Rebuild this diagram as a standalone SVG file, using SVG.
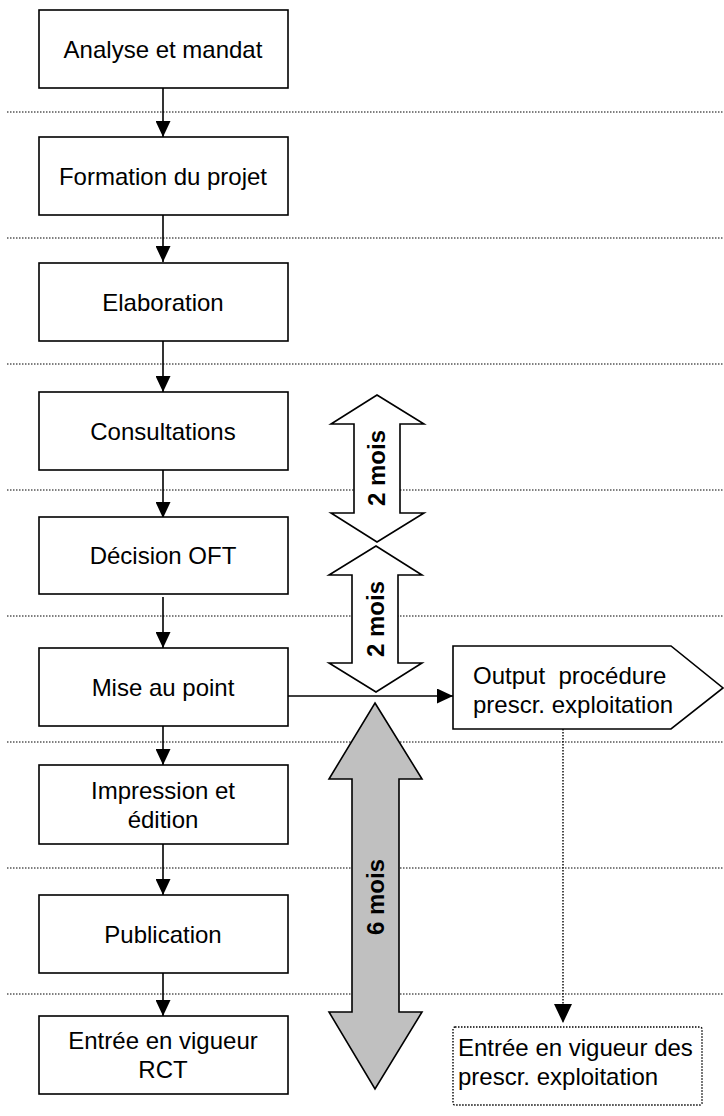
<svg xmlns="http://www.w3.org/2000/svg" width="724" height="1116" viewBox="0 0 724 1116">
<style>
.box{fill:#fff;stroke:#000;stroke-width:1.6}
.t{font-family:"Liberation Sans",Arial,sans-serif;font-size:24px;fill:#000}
.c{text-anchor:middle}
.b{font-weight:bold}
.sep{stroke:#000;stroke-width:1;stroke-dasharray:1.5,1.5;fill:none}
.ln{stroke:#000;stroke-width:1.6;fill:none}
.dl{stroke:#000;stroke-width:1.4;stroke-dasharray:1.5,1.5;fill:none}
.dbl{stroke:#000;stroke-width:1.6}
</style>
<defs>
<marker id="ah" markerWidth="16" markerHeight="15" refX="16" refY="7.5" viewBox="0 0 16 15" orient="auto" markerUnits="userSpaceOnUse">
<path d="M0,0 L16,7.5 L0,15 Z" fill="#000"/>
</marker>
<marker id="ah2" markerWidth="19" markerHeight="18" refX="19" refY="9" viewBox="0 0 19 18" orient="auto" markerUnits="userSpaceOnUse">
<path d="M0,0 L19,9 L0,18 Z" fill="#000"/>
</marker>
</defs>
<rect width="724" height="1116" fill="#fff"/>
<g id="separators">
<line class="sep" x1="7" y1="112" x2="724" y2="112"/>
<line class="sep" x1="7" y1="238" x2="724" y2="238"/>
<line class="sep" x1="7" y1="364" x2="724" y2="364"/>
<line class="sep" x1="7" y1="490" x2="724" y2="490"/>
<line class="sep" x1="7" y1="616" x2="724" y2="616"/>
<line class="sep" x1="7" y1="742" x2="724" y2="742"/>
<line class="sep" x1="7" y1="868" x2="724" y2="868"/>
<line class="sep" x1="7" y1="994" x2="724" y2="994"/>
</g>
<g id="connectors">
<line class="ln" x1="163" y1="88" x2="163" y2="137" marker-end="url(#ah)"/>
<line class="ln" x1="163" y1="215" x2="163" y2="262" marker-end="url(#ah)"/>
<line class="ln" x1="163" y1="341" x2="163" y2="392" marker-end="url(#ah)"/>
<line class="ln" x1="163" y1="470" x2="163" y2="518" marker-end="url(#ah)"/>
<line class="ln" x1="163" y1="597" x2="163" y2="648" marker-end="url(#ah)"/>
<line class="ln" x1="163" y1="726" x2="163" y2="765" marker-end="url(#ah)"/>
<line class="ln" x1="163" y1="844" x2="163" y2="895" marker-end="url(#ah)"/>
<line class="ln" x1="163" y1="973" x2="163" y2="1016" marker-end="url(#ah)"/>
<line class="ln" x1="288" y1="696" x2="453" y2="696" marker-end="url(#ah)"/>
<line class="dl" x1="563" y1="729" x2="563" y2="1023" marker-end="url(#ah2)"/>
</g>
<g id="n1"><rect class="box" x="39" y="10" width="249" height="78"/><text class="t c" x="163" y="57.5">Analyse et mandat</text></g>
<g id="n2"><rect class="box" x="39" y="137" width="249" height="78"/><text class="t c" x="163" y="184.5">Formation du projet</text></g>
<g id="n3"><rect class="box" x="39" y="263" width="249" height="78"/><text class="t c" x="163" y="310.5">Elaboration</text></g>
<g id="n4"><rect class="box" x="39" y="392" width="249" height="78"/><text class="t c" x="163" y="439.5">Consultations</text></g>
<g id="n5"><rect class="box" x="39" y="517" width="249" height="77"/><text class="t c" x="163" y="564">Décision OFT</text></g>
<g id="n6"><rect class="box" x="39" y="648" width="249" height="78"/><text class="t c" x="163" y="695.5">Mise au point</text></g>
<g id="n7"><rect class="box" x="39" y="765" width="249" height="79"/><text class="t c" x="163" y="799">Impression et</text><text class="t c" x="163" y="828">édition</text></g>
<g id="n8"><rect class="box" x="39" y="895" width="249" height="78"/><text class="t c" x="163" y="942.5">Publication</text></g>
<g id="n9"><rect class="box" x="39" y="1016" width="249" height="78"/><text class="t c" x="163" y="1049">Entrée en vigueur</text><text class="t c" x="163" y="1078">RCT</text></g>
<g id="d1">
<path class="dbl" fill="#fff" d="M377,395 L424,424 L400,424 L400,513 L424,513 L377,542 L331,513 L354,513 L354,424 L331,424 Z"/>
<text class="t c b" transform="translate(385,468) rotate(-90)">2 mois</text>
</g>
<g id="d2">
<path class="dbl" fill="#fff" d="M376,546 L422,575 L398,575 L398,663 L422,663 L376,692 L329,663 L352,663 L352,575 L329,575 Z"/>
<text class="t c b" transform="translate(384,619) rotate(-90)">2 mois</text>
</g>
<g id="d3">
<path class="dbl" fill="#c0c0c0" d="M375,703 L422,779 L399,779 L399,1012 L422,1012 L375,1089 L329,1012 L352,1012 L352,779 L329,779 Z"/>
<text class="t c b" transform="translate(384,897) rotate(-90)">6 mois</text>
</g>
<g id="out">
<path class="box" d="M453,646 L671,646 L723,688 L671,729 L453,729 Z"/>
<text class="t" x="473" y="684" xml:space="preserve">Output  procédure</text>
<text class="t" x="473" y="713">prescr. exploitation</text>
</g>
<g id="n10">
<rect x="453" y="1027" width="249" height="78" rx="2" fill="#fff" stroke="#000" stroke-width="1.4" stroke-dasharray="1.5,1.5"/>
<text class="t" x="458" y="1056">Entrée en vigueur des</text>
<text class="t" x="458" y="1085">prescr. exploitation</text>
</g>
</svg>
